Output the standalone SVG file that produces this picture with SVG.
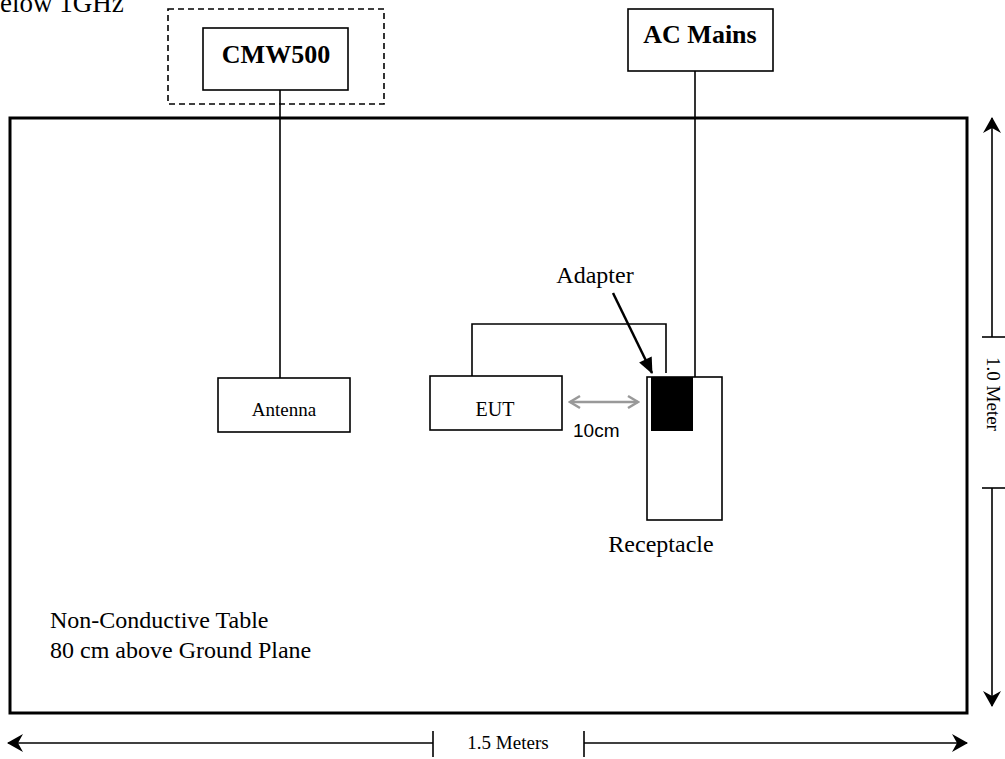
<svg xmlns="http://www.w3.org/2000/svg" width="1005" height="759" viewBox="0 0 1005 759">
<style>
.serif{font-family:"Liberation Serif","Times New Roman",serif;fill:#000}
.sans{font-family:"Liberation Sans",Arial,sans-serif;fill:#000}
.box{fill:#fff;stroke:#000;stroke-width:1.6}
.ln{fill:none;stroke:#000;stroke-width:1.6}
</style>
<defs>
<marker id="barb" viewBox="-17 -10 19 20" markerWidth="19" markerHeight="20" refX="0" refY="0" orient="auto" markerUnits="userSpaceOnUse">
<path d="M1,0 L-15,-9 L-10,0 L-15,9 Z" fill="#000"/>
</marker>
<marker id="tri" viewBox="-16 -8 18 16" markerWidth="18" markerHeight="16" refX="0" refY="0" orient="auto" markerUnits="userSpaceOnUse">
<path d="M1,0 L-15,-7 L-15,7 Z" fill="#000"/>
</marker>
<marker id="gray" viewBox="-12 -8 14 16" markerWidth="14" markerHeight="16" refX="0" refY="0" orient="auto-start-reverse" markerUnits="userSpaceOnUse">
<path d="M-10,-6 L0,0 L-10,6" fill="none" stroke="#999" stroke-width="2.5"/>
</marker>
</defs>

<text class="serif" x="-18" y="12" font-size="27">Below 1GHz</text>

<g id="table">
<rect x="10" y="118" width="957" height="595" fill="none" stroke="#000" stroke-width="3"/>
<text class="serif" x="50" y="628" font-size="24">Non-Conductive Table</text>
<text class="serif" x="50" y="658" font-size="24">80 cm above Ground Plane</text>
</g>

<g id="connectors">
<line class="ln" x1="280" y1="90" x2="280" y2="378"/>
<line class="ln" x1="695" y1="71" x2="695" y2="377"/>
<polyline class="ln" points="472,376 472,324 666,324 666,373"/>
<line x1="613" y1="293" x2="652" y2="373" stroke="#000" stroke-width="2.5" marker-end="url(#tri)"/>
<line x1="570" y1="402" x2="638" y2="402" stroke="#999" stroke-width="2.5" marker-start="url(#gray)" marker-end="url(#gray)"/>
</g>

<g id="cmw500">
<rect x="168" y="9" width="216" height="95" fill="none" stroke="#000" stroke-width="1.6" stroke-dasharray="6,4"/>
<rect class="box" x="203" y="28" width="145" height="62"/>
<text class="serif" x="276" y="63" font-size="26" font-weight="bold" text-anchor="middle">CMW500</text>
</g>

<g id="acmains">
<rect class="box" x="628" y="9" width="145" height="62"/>
<text class="serif" x="700" y="43" font-size="26" font-weight="bold" text-anchor="middle">AC Mains</text>
</g>

<g id="antenna">
<rect class="box" x="218" y="378" width="132" height="54"/>
<text class="serif" x="284" y="416" font-size="19" text-anchor="middle">Antenna</text>
</g>

<g id="eut">
<rect class="box" x="430" y="376" width="132" height="54"/>
<text class="serif" x="495" y="416" font-size="20" text-anchor="middle">EUT</text>
</g>

<g id="receptacle">
<rect class="box" x="647" y="377" width="75" height="143"/>
<rect x="651" y="377" width="42" height="54" fill="#000"/>
<text class="serif" x="661" y="552" font-size="24" text-anchor="middle">Receptacle</text>
</g>

<g id="labels">
<text class="serif" x="595" y="283" font-size="24" text-anchor="middle">Adapter</text>
<text class="sans" x="573" y="437" font-size="19">10cm</text>
</g>

<g id="dimensions">
<line class="ln" x1="992" y1="337" x2="992" y2="118" marker-end="url(#barb)"/>
<line class="ln" x1="982" y1="337" x2="1005" y2="337"/>
<text class="serif" font-size="19" text-anchor="middle" transform="translate(987,394) rotate(90)">1.0 Meter</text>
<line class="ln" x1="982" y1="488" x2="1005" y2="488"/>
<line class="ln" x1="992" y1="488" x2="992" y2="706" marker-end="url(#barb)"/>
<line class="ln" x1="433" y1="743" x2="8" y2="743" marker-end="url(#barb)"/>
<line class="ln" x1="433" y1="731" x2="433" y2="757"/>
<text class="serif" x="508" y="749" font-size="19" text-anchor="middle">1.5 Meters</text>
<line class="ln" x1="584" y1="731" x2="584" y2="757"/>
<line class="ln" x1="584" y1="743" x2="967" y2="743" marker-end="url(#barb)"/>
</g>
</svg>
